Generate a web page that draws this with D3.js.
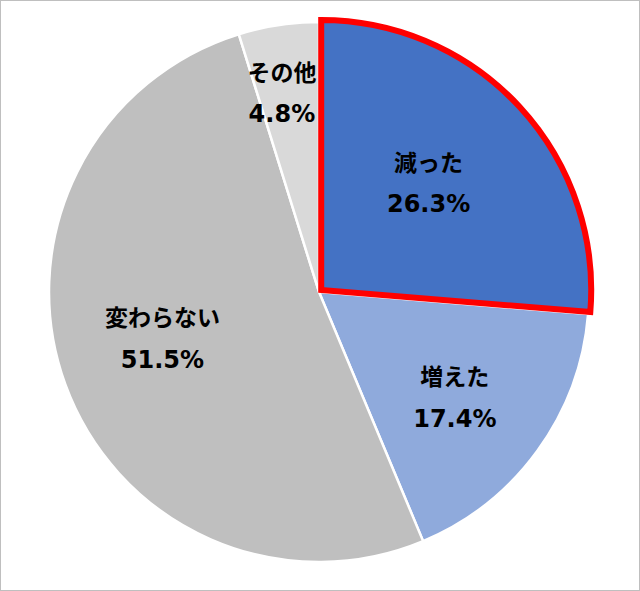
<!DOCTYPE html>
<html>
<head>
<meta charset="utf-8">
<script src="https://cdn.jsdelivr.net/npm/d3@7"></script>
<style>
  html, body { margin: 0; padding: 0; background: #fff; }
  svg { display: block; }
</style>
</head>
<body>
<svg id="chart" width="640" height="591"></svg>
<script>
// ---- data ----
const categories = ["減った", "増えた", "変わらない", "その他"];
const values = [26.3, 17.4, 51.5, 4.8];
const valueLabels = ["26.3%", "17.4%", "51.5%", "4.8%"];

// ---- styling / layout ----
const colors = ["#4472C4", "#8FAADC", "#BFBFBF", "#D9D9D9"];
const labelRadius = [155, 171, 163, 203];
const labelNudge = [[-4.4, -4.9], [-2.5, 4], [-3.4, -9.7], [-6.6, 0.7]];
const W = 640, H = 591;
const cx = 319, cy = 292, R = 270;

const svg = d3.select("#chart");

svg.append("rect")
  .attr("x", 0.5).attr("y", 0.5)
  .attr("width", W - 1).attr("height", H - 1)
  .attr("fill", "#fff")
  .attr("stroke", "#BFBFBF").attr("stroke-width", 1);

const g = svg.append("g").attr("transform", `translate(${cx},${cy})`);

const pie = d3.pie().sort(null).value(d => d.v);
const table = categories.map((c, i) => ({ c, v: values[i], lab: valueLabels[i], col: colors[i], lr: labelRadius[i], nd: labelNudge[i] }));
const arcs = pie(table);

const arc = d3.arc().innerRadius(0).outerRadius(R);

// normal slices
g.selectAll("path.slice")
  .data(arcs.filter((d, i) => i !== 0))
  .join("path")
  .attr("class", "slice")
  .attr("d", arc)
  .attr("fill", d => d.data.col)
  .attr("stroke", "#fff")
  .attr("stroke-width", 2.5)
  .attr("stroke-linejoin", "round");

// highlighted slice (減った) with red border, slightly pulled out
const hi = arcs[0];
const mid = (hi.startAngle + hi.endAngle) / 2;
const off = 3;
g.append("path")
  .attr("transform", `translate(${Math.sin(mid) * off},${-Math.cos(mid) * off})`)
  .attr("d", arc(hi))
  .attr("fill", hi.data.col)
  .attr("stroke", "#FF0000")
  .attr("stroke-width", 6)
  .attr("stroke-linejoin", "miter");

// labels
const lg = g.selectAll("g.lab")
  .data(arcs)
  .join("g")
  .attr("class", "lab")
  .attr("transform", d => {
    const la = d3.arc().innerRadius(d.data.lr).outerRadius(d.data.lr);
    const [x, y] = la.centroid(d);
    return `translate(${x + d.data.nd[0]},${y + d.data.nd[1]})`;
  });

lg.append("text")
  .attr("text-anchor", "middle")
  .attr("dominant-baseline", "central")
  .attr("y", -21.5)
  .attr("font-family", "'Noto Sans CJK JP', sans-serif")
  .attr("font-weight", "bold")
  .attr("font-size", 23)
  .attr("fill", "#000")
  .text(d => d.data.c);

lg.append("text")
  .attr("text-anchor", "middle")
  .attr("dominant-baseline", "central")
  .attr("y", 22)
  .attr("font-family", "'DejaVu Sans', sans-serif")
  .attr("font-weight", "bold")
  .attr("font-size", 24)
  .attr("fill", "#000")
  .text(d => d.data.lab);
</script>
</body>
</html>
